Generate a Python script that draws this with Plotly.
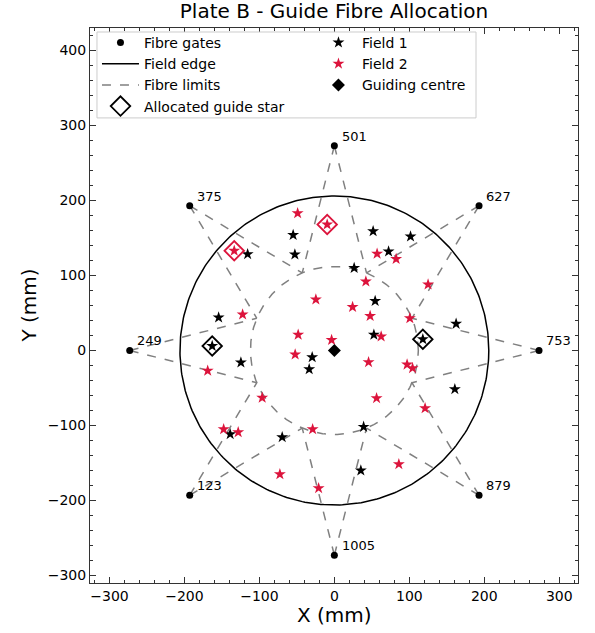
import numpy as np
import plotly.graph_objects as go

# ---------------- data ----------------
gate_labels = ["123", "249", "375", "501", "627", "753", "879", "1005"]
gate_x = [-193, -273, -193, 0, 193, 273, 193, 0]
gate_y = [-193, 0, 193, 273, 193, 0, -193, -273]
gate_angle_deg = [225, 180, 135, 90, 45, 0, -45, -90]

field_edge_radius = 206
inner_radius = 112

field1_x = [-55, -52.7, -115.7, -154.4, -163, 51.7, 101.6, 72.3, 26.4, 54.4, 162.4,
            52.7, 118, -124.7, -29.6, -33.6, -139, -69.6, 160.7, 39, 35.3]
field1_y = [154, 128, 128.4, 44, 6, 159, 152, 132, 110, 66, 35.6,
            21, 15, -16, -9, -25, -111.6, -115.6, -51.6, -101.8, -160]

field2_x = [-49, -9.6, -133.6, -24.7, -122.4, -48.3, -3.7, 57, 82.4, 42, 125, 24.3,
            47.7, 100.7, 62.4, -52.3, -169, -96.3, -147.7, -128.3, -29, -72.7, -21,
            45.6, 97, 104.3, 56.3, 121, 86]
field2_y = [183, 168, 133, 68, 48, 21, 14, 129, 122, 92, 88, 58,
            46, 43, 18.7, -5.3, -27, -63, -105, -109, -105, -165, -183.6,
            -15.6, -18.7, -23.6, -63.6, -77, -151.6]

guide_centre_x = [0]
guide_centre_y = [0]

alloc_f1_x = [-163, 118]
alloc_f1_y = [6, 15]
alloc_f2_x = [-133.6, -9.6]
alloc_f2_y = [133, 168]

# ---------------- geometry ----------------
lim_x, lim_y = [], []
for gx, gy, ang in zip(gate_x, gate_y, gate_angle_deg):
    for d in (-22.5, 22.5):
        a = np.radians(ang + d)
        lim_x += [gx, inner_radius * np.cos(a), None]
        lim_y += [gy, inner_radius * np.sin(a), None]
t = np.linspace(0, 2 * np.pi, 361)
lim_x += list(inner_radius * np.cos(t))
lim_y += list(inner_radius * np.sin(t))

RED = "#DC143C"
FONT = "DejaVu Sans"

fig = go.Figure()
fig.add_trace(go.Scatter(x=lim_x, y=lim_y, mode="lines", name="Fibre limits",
                         line=dict(color="#808080", width=1.5, dash="dash"),
                         legend="legend", legendrank=3))
fig.add_trace(go.Scatter(x=field_edge_radius * np.cos(t), y=field_edge_radius * np.sin(t),
                         mode="lines", name="Field edge",
                         line=dict(color="black", width=1.5),
                         legend="legend", legendrank=2))
fig.add_trace(go.Scatter(x=gate_x, y=gate_y, mode="markers", name="Fibre gates",
                         marker=dict(color="black", size=7, symbol="circle"),
                         legend="legend", legendrank=1))
fig.add_trace(go.Scatter(x=field1_x, y=field1_y, mode="markers", name="Field 1",
                         marker=dict(color="black", size=9, symbol="star", line=dict(width=0)),
                         legend="legend2", legendrank=1))
fig.add_trace(go.Scatter(x=field2_x, y=field2_y, mode="markers", name="Field 2",
                         marker=dict(color=RED, size=9, symbol="star", line=dict(width=0)),
                         legend="legend2", legendrank=2))
fig.add_trace(go.Scatter(x=guide_centre_x, y=guide_centre_y, mode="markers",
                         name="Guiding centre",
                         marker=dict(color="black", size=10, symbol="diamond"),
                         legend="legend2", legendrank=3))
fig.add_trace(go.Scatter(x=alloc_f1_x, y=alloc_f1_y, mode="markers",
                         name="Allocated guide star",
                         marker=dict(color="black", size=15, symbol="diamond-open",
                                     line=dict(width=1.8)),
                         legend="legend", legendrank=4))
fig.add_trace(go.Scatter(x=alloc_f2_x, y=alloc_f2_y, mode="markers",
                         name="Allocated guide star (Field 2)", showlegend=False,
                         marker=dict(color=RED, size=15, symbol="diamond-open",
                                     line=dict(width=1.8))))

for lbl, gx, gy in zip(gate_labels, gate_x, gate_y):
    fig.add_annotation(x=gx + 7, y=gy + 13, text=lbl, showarrow=False,
                       xanchor="left", yanchor="middle",
                       font=dict(family=FONT, size=13, color="black"))

# axis titles as annotations (paper coordinates)
fig.add_annotation(x=0.5, y=-0.058, xref="paper", yref="paper", text="X (mm)",
                   showarrow=False, xanchor="center", yanchor="middle",
                   font=dict(family=FONT, size=20, color="black"))
fig.add_annotation(x=-0.127, y=0.5, xref="paper", yref="paper", text="Y (mm)",
                   showarrow=False, xanchor="center", yanchor="middle", textangle=-90,
                   font=dict(family=FONT, size=20, color="black"))

# legend frame
fig.add_shape(type="rect", xref="paper", yref="paper",
              x0=0.0143, x1=0.791, y0=0.838, y1=0.9928,
              line=dict(color="#cccccc", width=1), fillcolor="white", layer="above")

axis_common = dict(
    showline=True, mirror="ticks", linecolor="#333333", linewidth=1,
    ticks="inside", ticklen=6, tickwidth=1, tickcolor="#333333",
    showgrid=False, zeroline=False,
    tickfont=dict(family=FONT, size=14, color="black"),
    minor=dict(ticks="inside", ticklen=3, tickwidth=1, tickcolor="#333333", dtick=20),
)

legend_common = dict(yanchor="top", xanchor="left", orientation="v",
                     bgcolor="rgba(0,0,0,0)", borderwidth=0, itemwidth=37,
                     font=dict(family=FONT, size=14, color="black"),
                     tracegroupgap=0)

fig.update_layout(
    width=595, height=633,
    margin=dict(l=90, r=17, t=28, b=50),
    paper_bgcolor="white", plot_bgcolor="white",
    title=dict(text="Plate B - Guide Fibre Allocation", x=0.5, xref="paper",
               y=0.993, yref="container", yanchor="top",
               font=dict(family=FONT, size=20, color="black")),
    xaxis=dict(range=[-326, 325], dtick=100, **axis_common),
    yaxis=dict(range=[-310, 430], dtick=100, **axis_common),
    legend=dict(x=0.0143, y=1.002, **legend_common),
    legend2=dict(x=0.461, y=1.002, **legend_common),
    showlegend=True,
)

fig.write_html("out.html", config={"displayModeBar": False},
               post_script="document.body.style.margin='0';")
